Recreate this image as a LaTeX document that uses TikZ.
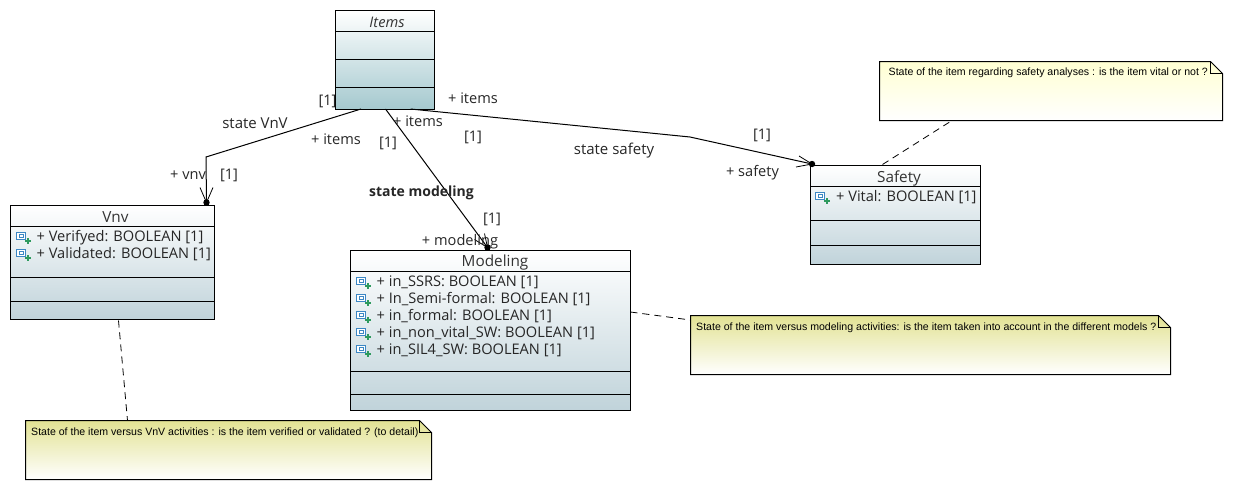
\documentclass[tikz,border=0pt]{standalone}
\usepackage{fontspec}
\setmainfont{Open Sans}
\newfontfamily\notefont{Liberation Sans}
\usetikzlibrary{calc}
\definecolor{clsbot}{HTML}{C0D3DA}
\definecolor{itembot}{HTML}{A5C9CF}
\definecolor{noteyel}{HTML}{E2E293}
\definecolor{noteyelb}{HTML}{FFFFD2}
\definecolor{iconblue}{HTML}{3C87C4}
\definecolor{icongreen}{HTML}{2E9A5E}
\tikzset{
  x=1pt,y=-1pt,
  classbox/.style={draw=black,line width=1pt,anchor=north west,inner sep=0pt,outer sep=0pt,top color=white,bottom color=clsbot,shading angle=0},
  itembox/.style={classbox,bottom color=itembot},
  lbl/.style={font=\fontsize{14.6}{16}\selectfont,inner sep=0pt,text=black!85,yshift=-1pt},
  statelbl/.style={font=\fontsize{15}{17}\selectfont,inner sep=0pt,text=black!85,yshift=-1pt},
  attr/.style={font=\fontsize{14.6}{16}\selectfont,inner sep=0pt,anchor=west,text=black!85,yshift=-1pt},
  head/.style={font=\fontsize{15.3}{17}\selectfont,inner sep=0pt,text=black!80,yshift=-1pt},
  divider/.style={line width=1pt},
  assoc/.style={line width=1pt},
  tipv/.style={line width=.8pt},
  notelink/.style={line width=.8pt,dashed,dash pattern=on 7pt off 5pt},
  notetext/.style={font=\notefont\fontsize{10.58}{12}\selectfont,inner sep=0pt,anchor=west,text=black,yshift=-.5pt},
  anchorbox/.style={inner sep=0pt,outer sep=0pt,anchor=north west},
}
\newcommand{\attricon}[1]{%
  \begin{scope}[shift={(#1)}]
    \draw[draw=iconblue,fill=white,line width=.9pt] (-7.5,-5) rectangle (1.5,2.5);
    \draw[draw=iconblue,line width=.9pt] (-5,-2.5) -- (-0.5,-2.5) -- (-0.5,0) -- (-5,0) -- cycle;
    \fill[icongreen] (0.5,3) rectangle (7,5.2);
    \fill[icongreen] (2.7,0.8) rectangle (4.9,7.2);
  \end{scope}}
\begin{document}
\begin{tikzpicture}
\useasboundingbox (0,0) rectangle (1233,490);

% Items
\node[itembox,minimum width=99pt,minimum height=98.5pt] (items) at (335.5,10.5) {};
\draw[divider] (335.5,31) -- (434.5,31) (335.5,59) -- (434.5,59) (335.5,87.5) -- (434.5,87.5);
\node[head,font=\itshape\fontsize{14.6}{16}\selectfont] (itemsname) at (387,21.5) {Items};

% Vnv
\node[classbox,minimum width=204pt,minimum height=114pt] (vnv) at (10.5,205.5) {};
\draw[divider] (10.5,226) -- (214.5,226) (10.5,277) -- (214.5,277) (10.5,301) -- (214.5,301);
\node[head] (vnvname) at (115.5,216) {Vnv};
\attricon{24,237}
\attricon{24,254}
\node[attr] (v1) at (36.5,236.5) {+ Verifyed: BOOLEAN [1]};
\node[attr] (v2) at (36.5,253.5) {+ Validated: BOOLEAN [1]};

% Modeling
\node[classbox,minimum width=280pt,minimum height=160pt] (modeling) at (350.5,250.5) {};
\draw[divider] (350.5,271) -- (630.5,271) (350.5,371) -- (630.5,371) (350.5,394) -- (630.5,394);
\node[head] (modelingname) at (495,261.5) {Modeling};
\attricon{364,282}
\attricon{364,299}
\attricon{364,316}
\attricon{364,333}
\attricon{364,350}
\node[attr] (m1) at (376.5,281.5) {+ in\_SSRS: BOOLEAN [1]};
\node[attr] (m2) at (376.5,298.5) {+ In\_Semi-formal: BOOLEAN [1]};
\node[attr] (m3) at (376.5,315.5) {+ in\_formal: BOOLEAN [1]};
\node[attr] (m4) at (376.5,332.5) {+ in\_non\_vital\_SW: BOOLEAN [1]};
\node[attr] (m5) at (376.5,349.5) {+ in\_SIL4\_SW: BOOLEAN [1]};

% Safety
\node[classbox,minimum width=170pt,minimum height=99pt] (safety) at (810.5,165.5) {};
\draw[divider] (810.5,186) -- (980.5,186) (810.5,220) -- (980.5,220) (810.5,245) -- (980.5,245);
\node[head] (safetyname) at (899,177) {Safety};
\attricon{823,197}
\node[attr] (s1) at (836,196.5) {+ Vital: BOOLEAN [1]};

% Notes
\shade[top color=noteyelb,bottom color=white,draw=black,line width=1pt] (879.5,61.5) -- (1210.5,61.5) -- (1222.5,73.5) -- (1222.5,120.5) -- (879.5,120.5) -- cycle;
\draw[line width=1pt] (1210.5,61.5) -- (1210.5,73.5) -- (1222.5,73.5);
\node[anchorbox,minimum width=343pt,minimum height=59pt] (nsafety) at (879.5,61.5) {};
\node[notetext] (nsafetytxt) at (888.5,72.5) {State of the item regarding safety analyses : is the item vital or not ?};

\shade[top color=noteyel,bottom color=white,draw=black,line width=1pt] (690.5,315.5) -- (1158.5,315.5) -- (1170.5,327.5) -- (1170.5,374.5) -- (690.5,374.5) -- cycle;
\draw[line width=1pt] (1158.5,315.5) -- (1158.5,327.5) -- (1170.5,327.5);
\node[anchorbox,minimum width=480pt,minimum height=59pt] (nmodel) at (690.5,315.5) {};
\node[notetext] (nmodeltxt) at (696,327) {State of the item versus modeling activities: is the item taken into account in the different models ?};

\shade[top color=noteyel,bottom color=white,draw=black,line width=1pt] (25.5,420.5) -- (419.5,420.5) -- (431.5,432.5) -- (431.5,479.5) -- (25.5,479.5) -- cycle;
\draw[line width=1pt] (419.5,420.5) -- (419.5,432.5) -- (431.5,432.5);
\node[anchorbox,minimum width=406pt,minimum height=59pt] (nvnv) at (25.5,420.5) {};
\node[notetext] (nvnvtxt) at (31,432) {State of the item versus VnV activities : is the item verified or validated ? (to detail)};

% Note links
\draw[notelink] ($(vnv.south west)+(108,1)$) -- ($(nvnv.north west)+(102,0)$);
\draw[notelink] (modeling.east |- 0,312) -- ($(nmodel.north west)+(0,4.5)$);
\draw[notelink] ($(safety.north west)+(72,-1)$) -- ($(nsafety.south west)+(72.5,0)$);

% Associations
\coordinate (b1) at (206,157);
\coordinate (b2) at (690,137);
\coordinate (e1) at ($(vnv.north east)+(-8,-3)$);
\coordinate (e2) at ($(modeling.north west)+(137,-3)$);
\coordinate (e3) at ($(safety.north west)+(1.5,-1.5)$);
\draw[assoc] ($(items.south west)+(25.5,0)$) -- (b1) -- (e1);
\draw[assoc] ($(items.south west)+(50,0)$) -- (e2);
\draw[assoc] ($(items.south west)+(75,0)$) -- (b2) -- (e3);
\fill (e1) circle (3.2pt);
\fill (e2) circle (3.2pt);
\fill (e3) circle (3.2pt);
\draw[tipv] ($(e1)+(-6.5,-15)$) -- (e1) -- ($(e1)+(6.5,-15)$);
\draw[tipv] ($(e2)+(-3,-14)$) -- (e2) -- ($(e2)+(-13,-8)$);
\draw[tipv] ($(e3)+(-13,-8)$) -- (e3) -- ($(e3)+(-16,3)$);

% Association labels
\node[statelbl] (l1) at (255,122.5) {state VnV};
\node[statelbl,font=\bfseries\fontsize{14}{16}\selectfont] (l2) at (421.5,191.5) {state modeling};
\node[statelbl] (l3) at (614,149.5) {state safety};
\node[lbl] (l4) at (473,97.5) {+ items};
\node[lbl] (l5) at (418,120.5) {+ items};
\node[lbl] (l6) at (336,138.5) {+ items};
\node[lbl] (l7) at (188,174.5) {+ vnv};
\node[lbl] (l8) at (460,240.5) {+ modeling};
\node[lbl] (l9) at (752.5,171.5) {+ safety};
\node[lbl] (m1a) at (327.5,100.5) {[1]};
\node[lbl] (m2a) at (388,142.5) {[1]};
\node[lbl] (m3a) at (473,136.5) {[1]};
\node[lbl] (m4a) at (229,174.5) {[1]};
\node[lbl] (m5a) at (492,218.5) {[1]};
\node[lbl] (m6a) at (762,134) {[1]};
\end{tikzpicture}
\end{document}
